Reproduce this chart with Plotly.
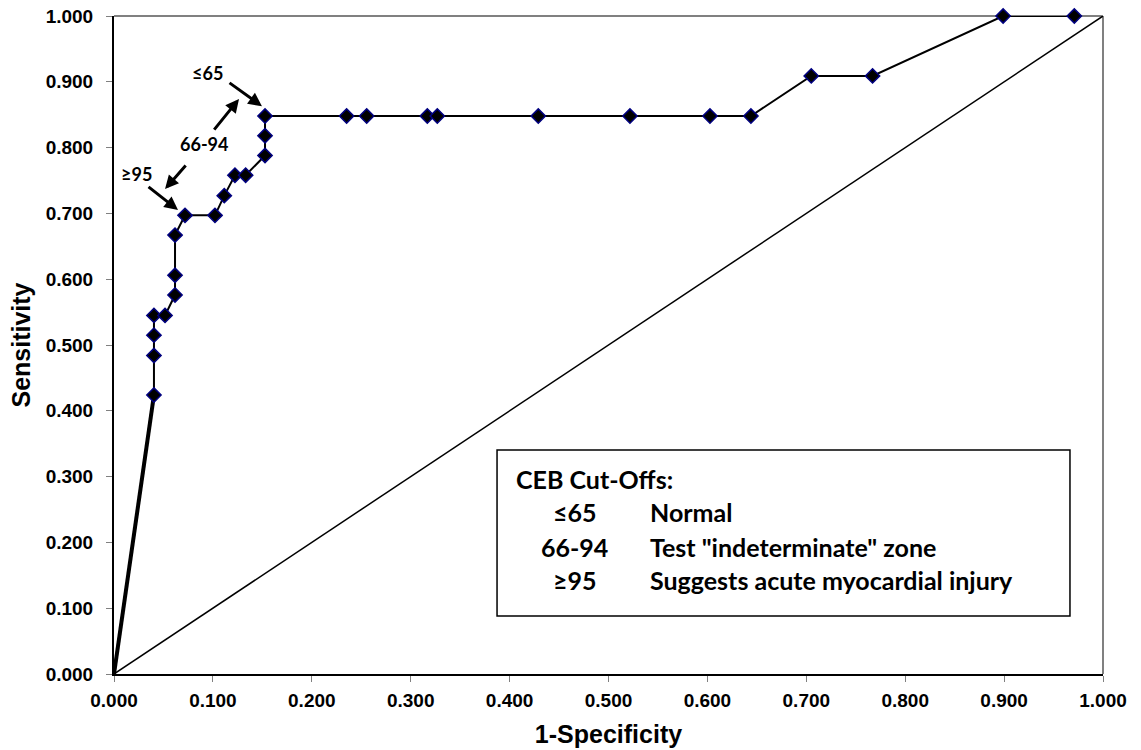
import plotly.graph_objects as go

# ROC curve data (1-Specificity, Sensitivity)
fpr = [0.000, 0.0404, 0.0404, 0.0404, 0.0404, 0.0516, 0.0617, 0.0617, 0.0617,
       0.0718, 0.1021, 0.1115, 0.1223, 0.1331, 0.1527, 0.1527, 0.1527,
       0.2352, 0.2555, 0.3168, 0.3269, 0.4290, 0.5217, 0.6026, 0.6440,
       0.7050, 0.7670, 0.8990, 0.9710]
tpr = [0.000, 0.424, 0.484, 0.515, 0.545, 0.545, 0.576, 0.606, 0.667,
       0.697, 0.697, 0.727, 0.758, 0.758, 0.788, 0.818, 0.848,
       0.848, 0.848, 0.848, 0.848, 0.848, 0.848, 0.848, 0.848,
       0.909, 0.909, 1.000, 1.000]

diag_x = [0.0, 1.0]
diag_y = [0.0, 1.0]

tick_vals = [0.0, 0.1, 0.2, 0.3, 0.4, 0.5, 0.6, 0.7, 0.8, 0.9, 1.0]
tick_text = ["0.000", "0.100", "0.200", "0.300", "0.400", "0.500",
             "0.600", "0.700", "0.800", "0.900", "1.000"]

cutoff_title = "CEB Cut-Offs:"
cutoff_codes = ["\u226465", "66-94", "\u226595"]
cutoff_desc = ["Normal", "Test \"indeterminate\" zone", "Suggests acute myocardial injury"]

AX_FONT = "Arial, Liberation Sans, sans-serif"
TXT_FONT = "Lato, Open Sans, sans-serif"

fig = go.Figure()

# diagonal reference line
fig.add_trace(go.Scatter(x=diag_x, y=diag_y, mode="lines",
                         line=dict(color="black", width=1.5), hoverinfo="skip"))

# thicker first segment
fig.add_trace(go.Scatter(x=fpr[:2], y=tpr[:2], mode="lines",
                         line=dict(color="black", width=4), hoverinfo="skip"))

# ROC curve line
fig.add_trace(go.Scatter(x=fpr, y=tpr, mode="lines",
                         line=dict(color="black", width=2), hoverinfo="skip",
                         cliponaxis=False))

# markers (not at origin)
fig.add_trace(go.Scatter(x=fpr[1:], y=tpr[1:], mode="markers", cliponaxis=False,
                         marker=dict(symbol="diamond", size=11, color="black",
                                     line=dict(color="#000080", width=1.5)),
                         hoverinfo="skip"))

axis_common = dict(range=[0, 1], tickvals=tick_vals, ticktext=tick_text,
                   showgrid=False, zeroline=False, showline=True,
                   linecolor="black", linewidth=2, ticks="outside",
                   ticklen=6, tickcolor="#808080", tickwidth=1,
                   tickfont=dict(family=AX_FONT, size=19, color="black", weight="bold"),
                   fixedrange=True)

fig.update_layout(
    width=1141, height=750,
    margin=dict(l=114, r=38, t=16, b=76, autoexpand=False),
    paper_bgcolor="white", plot_bgcolor="white",
    showlegend=False, hovermode=False,
    xaxis=dict(**axis_common, ticklabelstandoff=2,
               title=dict(text="1-Specificity", standoff=16,
                          font=dict(family=AX_FONT, size=25, color="black", weight="bold"))),
    yaxis=dict(**axis_common, ticklabelstandoff=9,
               title=dict(text="Sensitivity", standoff=8,
                          font=dict(family=AX_FONT, size=25, color="black", weight="bold"))),
)

# top and right gray borders
fig.add_shape(type="line", xref="paper", yref="paper", x0=0, x1=1, y0=1, y1=1,
              line=dict(color="#808080", width=2), layer="below")
fig.add_shape(type="line", xref="paper", yref="paper", x0=1, x1=1, y0=0, y1=1,
              line=dict(color="#808080", width=2), layer="below")

# legend box
fig.add_shape(type="rect", xref="x", yref="y", x0=0.3873, x1=0.9666, y0=0.0881, y1=0.3404,
              line=dict(color="black", width=1.5), fillcolor="white", layer="below")

lab_font = dict(family=TXT_FONT, size=25, color="black", weight="bold")
fig.add_annotation(x=0.404, y=0.2964, xref="x", yref="y", text=cutoff_title,
                   showarrow=False, xanchor="left", yanchor="middle", font=lab_font)
row_y = [0.2462, 0.1930, 0.1429]
for code, desc, yy in zip(cutoff_codes, cutoff_desc, row_y):
    fig.add_annotation(x=0.4661, y=yy, xref="x", yref="y", text=code, showarrow=False,
                       xanchor="center", yanchor="middle", font=lab_font)
    fig.add_annotation(x=0.540, y=yy, xref="x", yref="y", text=desc, showarrow=False,
                       xanchor="left", yanchor="middle", font=lab_font)

# arrows (head x,y ; tail ax,ay)
arrows = [
    (0.1496, 0.863, 0.1153, 0.900),
    (0.1264, 0.874, 0.1001, 0.825),
    (0.0516, 0.737, 0.0738, 0.775),
    (0.0647, 0.705, 0.0334, 0.742),
]
for hx, hy, tx, ty in arrows:
    fig.add_annotation(x=hx, y=hy, ax=tx, ay=ty, xref="x", yref="y", axref="x", ayref="y",
                       text="", showarrow=True, arrowhead=2, arrowsize=0.9,
                       arrowwidth=3, arrowcolor="black", standoff=0, startstandoff=0)

arrow_font = dict(family=TXT_FONT, size=18, color="black", weight="bold")
fig.add_annotation(x=0.095, y=0.913, xref="x", yref="y", text=cutoff_codes[0],
                   showarrow=False, font=arrow_font)
fig.add_annotation(x=0.091, y=0.805, xref="x", yref="y", text=cutoff_codes[1],
                   showarrow=False, font=arrow_font)
fig.add_annotation(x=0.023, y=0.760, xref="x", yref="y", text=cutoff_codes[2],
                   showarrow=False, font=arrow_font)

fig.write_html("out.html", config={"displayModeBar": False},
               post_script="document.body.style.margin='0';document.body.style.padding='0';")
